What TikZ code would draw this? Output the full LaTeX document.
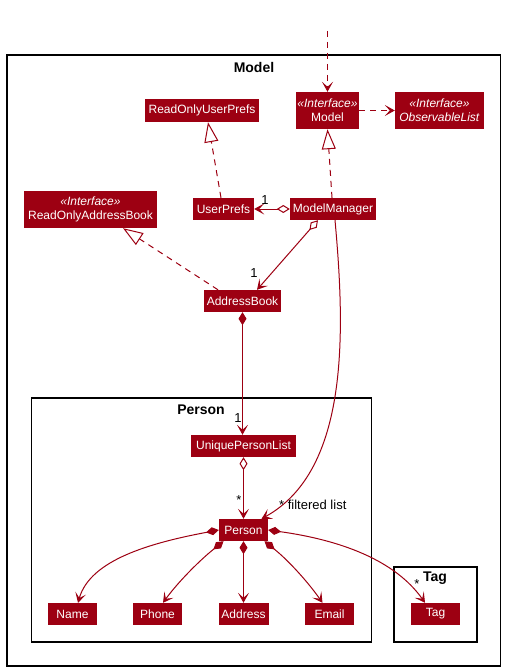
\documentclass[tikz,border=0pt]{standalone}
\usepackage{fontspec}
\setmainfont{Liberation Sans}
\usetikzlibrary{arrows.meta}
\definecolor{modelc}{HTML}{9D0012}
\newcommand{\cf}{\fontsize{12}{14}\selectfont}
\newcommand{\lf}{\fontsize{13}{15}\selectfont}
\newcommand{\pf}{\fontsize{14}{16}\selectfont\bfseries}
\tikzset{
  cls/.style={fill=modelc, text=white, inner sep=0pt, font=\cf, align=center},
  frame/.style={draw=black, line width=1.2pt, inner sep=0pt, fill=none},
  ptitle/.style={font=\pf, inner sep=0pt},
  lbl/.style={font=\lf, inner sep=0pt, text=black},
  vee/.tip={Stealth[length=10pt,width=11pt,inset=5pt]},
  link/.style={draw=modelc, line width=1pt},
  dep/.style={link, dash pattern=on 6pt off 5pt, -vee},
  real/.style={link, dash pattern=on 6pt off 5pt, -{Triangle[open,length=20pt,width=14pt,fill=white]}},
  aggr/.style={link, {Diamond[open,length=13pt,width=8pt,fill=white]}-vee},
  comp/.style={link, {Diamond[length=13pt,width=8pt]}-vee},
  assoc/.style={link, -vee}
}
\begin{document}
\begin{tikzpicture}[x=1pt,y=-1pt]
\useasboundingbox[fill=white] (0,0) rectangle (505,671);
% package frames
\node[frame, minimum width=493.5pt, minimum height=611pt] (pkgmodel) at (253.75,360.5) {};
\node[ptitle] (tmodel) at (254,67) {Model};
\node[frame, minimum width=340pt, minimum height=244pt] (pkgperson) at (201.5,520) {};
\node[ptitle] (tperson) at (201,410) {Person};
\node[frame, minimum width=83pt, minimum height=75pt] (pkgtag) at (435.5,604.5) {};
\node[ptitle] (ttag) at (435,578) {Tag};
% classes
\node[cls, minimum width=63pt, minimum height=37pt] (model) at (327.5,110.5) {\textit{«Interface»}\\Model};
\node[cls, minimum width=89pt, minimum height=37pt] (obs) at (439.5,110.5) {\textit{«Interface»}\\\textit{ObservableList}};
\node[cls, minimum width=114pt, minimum height=23pt] (rup) at (202,110.5) {ReadOnlyUserPrefs};
\node[cls, minimum width=61pt, minimum height=22pt] (up) at (223.5,209) {UserPrefs};
\node[cls, minimum width=86pt, minimum height=22pt] (mm) at (333,209) {ModelManager};
\node[cls, minimum width=133pt, minimum height=37pt] (roab) at (90.5,209.5) {\textit{«Interface»}\\ReadOnlyAddressBook};
\node[cls, minimum width=77pt, minimum height=22pt] (ab) at (242.5,301) {AddressBook};
\node[cls, minimum width=105pt, minimum height=22pt] (upl) at (243.5,446) {UniquePersonList};
\node[cls, minimum width=49pt, minimum height=22pt] (person) at (243.5,530) {Person};
\node[cls, minimum width=49pt, minimum height=22pt] (name) at (72.5,614) {Name};
\node[cls, minimum width=49pt, minimum height=22pt] (phone) at (157.5,614) {Phone};
\node[cls, minimum width=50pt, minimum height=22pt] (address) at (243.5,614) {Address};
\node[cls, minimum width=49pt, minimum height=22pt] (email) at (329.5,614) {Email};
\node[cls, minimum width=49pt, minimum height=22pt] (tag) at (435.5,614) {Tag};
% connectors
\coordinate (topin) at (327.5,31);
\draw[dep] (topin) -- (model.north);
\draw[dep] (model.east) -- (obs.west);
\draw[real] ([xshift=-1pt]mm.north) -- (model.south);
\draw[real] ([xshift=-2.5pt]up.north) -- ([xshift=6pt]rup.south);
\draw[real] ([xshift=-24.5pt]ab.north) -- ([xshift=32.5pt]roab.south);
\draw[aggr] (mm.west) -- (up.east);
\node[lbl] (l1) at (265,200) {1};
\draw[aggr] ([xshift=-15pt]mm.south) -- ([xshift=14.5pt]ab.north);
\node[lbl] (l2) at (254,273) {1};
\draw[assoc] ([xshift=2pt]mm.south) .. controls (345,330) and (350,470) .. ([xshift=18pt]person.north);
\node[lbl, anchor=west] (l3) at (279,505) {* filtered list};
\draw[comp] (ab.south) -- (ab.south |- upl.north);
\node[lbl] (l4) at (238,418) {1};
\draw[aggr] (upl.south) -- (person.north);
\node[lbl] (l5) at (239,500) {*};
\draw[comp] (person.west) .. controls (150,543) and (90,560) .. ([xshift=5.5pt]name.north);
\draw[comp] ([xshift=-20pt]person.south) .. controls (200,560) and (178,582) .. ([xshift=5.5pt]phone.north);
\draw[comp] (person.south) -- (address.north);
\draw[comp] ([xshift=21pt]person.south) .. controls (288,560) and (308,582) .. ([xshift=-7pt]email.north);
\draw[comp] (person.east) .. controls (340,540) and (395,560) .. ([xshift=-10.5pt]tag.north);
\node[lbl] (l6) at (417,584) {*};
\end{tikzpicture}
\end{document}
